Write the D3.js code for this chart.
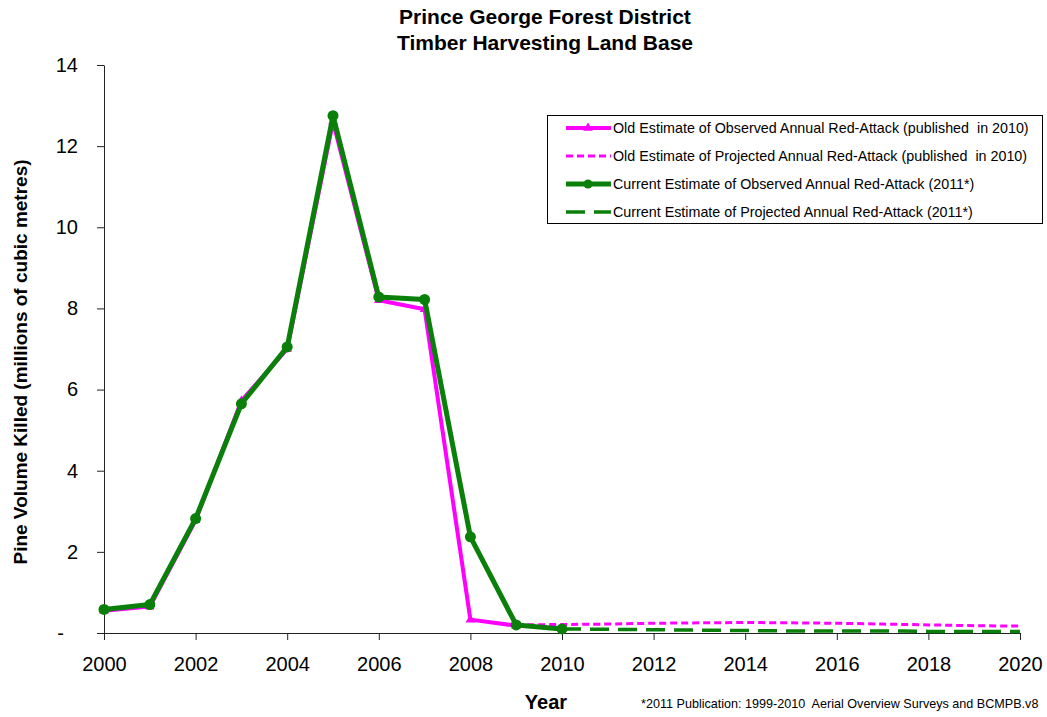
<!DOCTYPE html>
<html>
<head>
<meta charset="utf-8">
<script src="https://cdn.jsdelivr.net/npm/d3@7"></script>
<style>
  body { margin: 0; background: #fff; }
  text { font-family: "Liberation Sans", Arial, sans-serif; fill: #000; }
</style>
</head>
<body>
<script>
// 数据
const oldObsYears = [2000, 2001, 2002, 2003, 2004, 2005, 2006, 2007, 2008, 2009];
const oldObsValues = [0.55, 0.65, 2.78, 5.72, 7.0, 12.6, 8.2, 7.98, 0.33, 0.18];

const oldProjYears = [2009, 2010, 2011, 2012, 2013, 2014, 2015, 2016, 2017, 2018, 2019, 2020];
const oldProjValues = [0.2, 0.21, 0.22, 0.24, 0.25, 0.26, 0.25, 0.24, 0.22, 0.2, 0.18, 0.17];

const curObsYears = [2000, 2001, 2002, 2003, 2004, 2005, 2006, 2007, 2008, 2009, 2010];
const curObsValues = [0.58, 0.7, 2.82, 5.65, 7.05, 12.75, 8.28, 8.22, 2.37, 0.2, 0.1];

const curProjYears = [2010, 2011, 2012, 2013, 2014, 2015, 2016, 2017, 2018, 2019, 2020];
const curProjValues = [0.1, 0.09, 0.08, 0.07, 0.06, 0.05, 0.05, 0.05, 0.04, 0.04, 0.04];

const xTicks = [2000, 2002, 2004, 2006, 2008, 2010, 2012, 2014, 2016, 2018, 2020];
const yTicks = [0, 2, 4, 6, 8, 10, 12, 14];

const legendLabels = [
  "Old Estimate of Observed Annual Red-Attack (published  in 2010)",
  "Old Estimate of Projected Annual Red-Attack (published  in 2010)",
  "Current Estimate of Observed Annual Red-Attack (2011*)",
  "Current Estimate of Projected Annual Red-Attack (2011*)"
];

const magenta = "#ff00ff";
const green = "#0a800a";

// 画布
const svg = d3.select("body")
  .append("svg")
  .attr("width", 1047)
  .attr("height", 717);

const x = d3.scaleLinear().domain([2000, 2020]).range([104, 1020]);
const y = d3.scaleLinear().domain([0, 14]).range([633, 65]);

// 标题
["Prince George Forest District", "Timber Harvesting Land Base"].forEach((t, i) => {
  svg.append("text")
    .attr("x", 545).attr("y", 24 + i * 26)
    .attr("text-anchor", "middle")
    .style("font-weight", "bold")
    .style("font-size", "21px")
    .text(t);
});

// 坐标轴
const xAxis = d3.axisBottom(x)
  .tickValues(xTicks)
  .tickFormat(d3.format("d"))
  .tickSize(7)
  .tickSizeOuter(0);
const gx = svg.append("g")
  .attr("transform", "translate(0,633)")
  .call(xAxis);
gx.select(".domain").attr("d", "M97,0.5H1020");
gx.selectAll("text")
  .attr("dy", "0")
  .attr("y", 38)
  .style("font-size", "20px");

const yAxis = d3.axisLeft(y)
  .tickValues(yTicks)
  .tickFormat(d => d === 0 ? "-" : d)
  .tickSize(7)
  .tickSizeOuter(0);
const gy = svg.append("g")
  .attr("transform", "translate(104,0)")
  .call(yAxis);
gy.selectAll("text")
  .attr("x", -26)
  .style("font-size", "20px");
gy.selectAll(".tick")
  .filter(d => d === 0)
  .select("text")
  .attr("x", -40);

svg.selectAll(".domain, .tick line").attr("stroke", "#222");

// 轴标题
svg.append("text")
  .attr("transform", "translate(27,362) rotate(-90)")
  .attr("text-anchor", "middle")
  .style("font-weight", "bold")
  .style("font-size", "19px")
  .text("Pine Volume Killed (millions of cubic metres)");

svg.append("text")
  .attr("x", 546).attr("y", 709)
  .attr("text-anchor", "middle")
  .style("font-weight", "bold")
  .style("font-size", "20px")
  .text("Year");

svg.append("text")
  .attr("x", 641).attr("y", 708)
  .style("font-size", "12.6px")
  .style("white-space", "pre")
  .text("*2011 Publication: 1999-2010  Aerial Overview Surveys and BCMPB.v8");

// 折线
const line = d3.line()
  .x(d => x(d[0]))
  .y(d => y(d[1]));

const zip = (a, b) => a.map((v, i) => [v, b[i]]);

const oldObs = zip(oldObsYears, oldObsValues);
const oldProj = zip(oldProjYears, oldProjValues);
const curObs = zip(curObsYears, curObsValues);
const curProj = zip(curProjYears, curProjValues);

const tri = d3.symbol().type(d3.symbolTriangle).size(40);

svg.append("path")
  .attr("d", line(oldProj))
  .attr("fill", "none")
  .attr("stroke", magenta)
  .attr("stroke-width", 3)
  .attr("stroke-dasharray", "7,4");

svg.append("path")
  .attr("d", line(curProj))
  .attr("fill", "none")
  .attr("stroke", green)
  .attr("stroke-width", 3.5)
  .attr("stroke-dasharray", "19,9");

svg.append("path")
  .attr("d", line(oldObs))
  .attr("fill", "none")
  .attr("stroke", magenta)
  .attr("stroke-width", 4)
  .attr("stroke-linejoin", "round");

svg.selectAll(".tri")
  .data(oldObs)
  .enter()
  .append("path")
  .attr("class", "tri")
  .attr("transform", d => `translate(${x(d[0])},${y(d[1])})`)
  .attr("d", tri)
  .attr("fill", magenta);

svg.append("path")
  .attr("d", line(curObs))
  .attr("fill", "none")
  .attr("stroke", green)
  .attr("stroke-width", 5)
  .attr("stroke-linejoin", "round");

svg.selectAll(".dot")
  .data(curObs)
  .enter()
  .append("circle")
  .attr("class", "dot")
  .attr("cx", d => x(d[0]))
  .attr("cy", d => y(d[1]))
  .attr("r", 5.5)
  .attr("fill", green);

// 图例
const legend = svg.append("g");
legend.append("rect")
  .attr("x", 547.5).attr("y", 115.5)
  .attr("width", 495).attr("height", 108)
  .attr("fill", "#fff")
  .attr("stroke", "#000");

const legendStyles = [
  { color: magenta, width: 4, dash: null, marker: "tri" },
  { color: magenta, width: 3, dash: "7,4", marker: null },
  { color: green, width: 5, dash: null, marker: "dot" },
  { color: green, width: 3.5, dash: "19,9", marker: null }
];

legendLabels.forEach((label, i) => {
  const ly = 128 + i * 28;
  const s = legendStyles[i];
  legend.append("line")
    .attr("x1", 566).attr("x2", 611)
    .attr("y1", ly).attr("y2", ly)
    .attr("stroke", s.color)
    .attr("stroke-width", s.width)
    .attr("stroke-dasharray", s.dash);
  if (s.marker === "tri") {
    legend.append("path")
      .attr("transform", `translate(588,${ly})`)
      .attr("d", tri)
      .attr("fill", s.color);
  } else if (s.marker === "dot") {
    legend.append("circle")
      .attr("cx", 588).attr("cy", ly).attr("r", 4.5)
      .attr("fill", s.color);
  }
  legend.append("text")
    .attr("x", 613).attr("y", ly + 5)
    .style("font-size", "14.3px")
    .style("white-space", "pre")
    .text(label);
});
</script>
</body>
</html>
